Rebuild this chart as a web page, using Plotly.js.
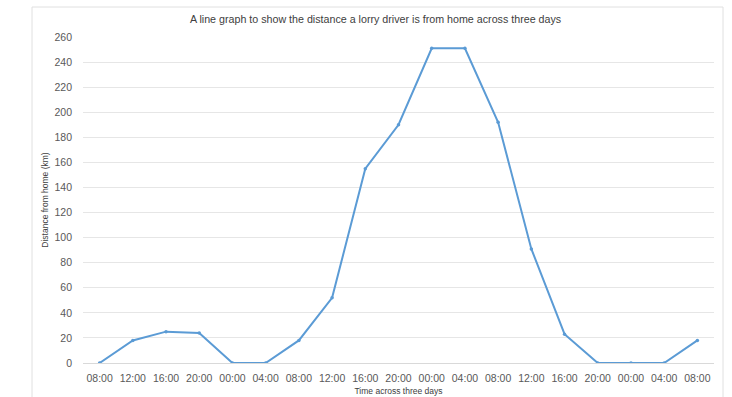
<!DOCTYPE html>
<html>
<head>
<meta charset="utf-8">
<script src="https://cdn.plot.ly/plotly-3.0.1.min.js"></script>
<style>html,body{margin:0;padding:0;background:#fff;}#chart{width:732px;height:397px;}</style>
</head>
<body>
<div id="chart"></div>
<script>
const timeLabels = ["08:00","12:00","16:00","20:00","00:00","04:00","08:00","12:00","16:00","20:00","00:00","04:00","08:00","12:00","16:00","20:00","00:00","04:00","08:00"];
const distanceKm = [0, 18, 25, 24, 0, 0, 18, 52, 155, 190, 251, 251, 192, 91, 23, 0, 0, 0, 18];
const titleText = "A line graph to show the distance a lorry driver is from home across three days";
const xTitle = "Time across three days";
const yTitle = "Distance from home (km)";

const idx = timeLabels.map((_, i) => i);
const trace = {
  x: idx, y: distanceKm, type: "scatter", mode: "lines+markers",
  line: {color: "#5B9BD5", width: 2},
  marker: {color: "#5B9BD5", size: 3.5},
  hoverinfo: "skip"
};
const layout = {
  width: 732, height: 397,
  margin: {l: 83, r: 18, t: 37, b: 34},
  paper_bgcolor: "#fff", plot_bgcolor: "#fff",
  showlegend: false,
  font: {family: "Liberation Sans, Arial, sans-serif", color: "#595959"},
  title: {text: titleText, font: {size: 10.7, color: "#404040"}, x: 0.513, xanchor: "center", y: 0.952, yanchor: "middle"},
  xaxis: {
    tickmode: "array", tickvals: idx, ticktext: timeLabels,
    range: [-0.5, 18.5], showgrid: false, zeroline: false,
    showline: false, ticks: "", tickfont: {size: 10.5, color: "#595959"},
    ticklabelstandoff: 7,
    title: {text: xTitle, font: {size: 8.5, color: "#404040"}, standoff: 5}
  },
  yaxis: {
    range: [0, 260], dtick: 20, showgrid: true, gridcolor: "#e6e6e6", gridwidth: 1,
    zeroline: true, zerolinecolor: "#d9d9d9", zerolinewidth: 1,
    showline: false, ticks: "", tickfont: {size: 10.5, color: "#595959"},
    ticklabelstandoff: 10,
    title: {text: yTitle, font: {size: 8.5, color: "#404040"}, standoff: 4}
  },
  shapes: [{
    type: "rect", xref: "paper", yref: "paper",
    x0: -0.0808, x1: 1.0143, y0: -0.2, y1: 1.092,
    line: {color: "#e0e0e0", width: 1}, fillcolor: "rgba(0,0,0,0)", layer: "below"
  }]
};
Plotly.newPlot("chart", [trace], layout, {displayModeBar: false, staticPlot: true});
</script>
</body>
</html>
